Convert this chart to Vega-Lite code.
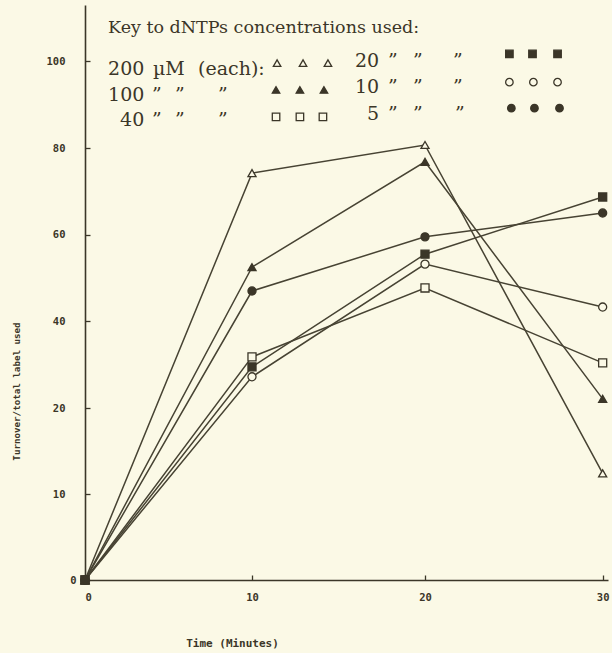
{
  "$schema": "https://vega.github.io/schema/vega-lite/v6.json",
  "width": 523,
  "height": 575,
  "autosize": {"type": "none"},
  "padding": {"left": 85, "top": 5, "right": 4, "bottom": 73},
  "background": "#fbf9e6",
  "config": {
    "view": {"stroke": null},
    "axis": {
      "grid": false,
      "domainColor": "#3b3628",
      "domainWidth": 1.6,
      "tickColor": "#3b3628",
      "tickWidth": 1.3,
      "tickSize": -5,
      "labelFont": "DejaVu Sans Mono",
      "labelFontWeight": "bold",
      "labelFontSize": 10.5,
      "labelColor": "#3b3628",
      "titleFont": "DejaVu Sans Mono",
      "titleFontWeight": "bold",
      "titleColor": "#3b3628"
    }
  },
  "datasets": {
    "obs": [
      {"conc": "200", "t": 0, "v": 0}, {"conc": "200", "t": 10, "v": 74.2}, {"conc": "200", "t": 20, "v": 80.7}, {"conc": "200", "t": 30, "v": 12.4},
      {"conc": "100", "t": 0, "v": 0}, {"conc": "100", "t": 10, "v": 52.5}, {"conc": "100", "t": 20, "v": 76.8}, {"conc": "100", "t": 30, "v": 22.1},
      {"conc": "40", "t": 0, "v": 0}, {"conc": "40", "t": 10, "v": 31.8}, {"conc": "40", "t": 20, "v": 47.7}, {"conc": "40", "t": 30, "v": 30.4},
      {"conc": "20", "t": 0, "v": 0}, {"conc": "20", "t": 10, "v": 29.5}, {"conc": "20", "t": 20, "v": 55.5}, {"conc": "20", "t": 30, "v": 68.7},
      {"conc": "10", "t": 0, "v": 0}, {"conc": "10", "t": 10, "v": 27.2}, {"conc": "10", "t": 20, "v": 53.2}, {"conc": "10", "t": 30, "v": 43.3},
      {"conc": "5", "t": 0, "v": 0}, {"conc": "5", "t": 10, "v": 47.0}, {"conc": "5", "t": 20, "v": 59.5}, {"conc": "5", "t": 30, "v": 65.0}
    ],
    "keytitle": [
      {"label": "Key to dNTPs concentrations used:", "t": 1.38, "v": 106.5}
    ],
    "keytext": [
      {"label": "200", "t": 1.38, "v": 96.85},
      {"label": "µM", "t": 4.07, "v": 96.85},
      {"label": "(each):", "t": 6.77, "v": 96.85},
      {"label": "100", "t": 1.38, "v": 90.85},
      {"label": "”", "t": 4.01, "v": 90.85},
      {"label": "”", "t": 5.39, "v": 90.85},
      {"label": "”", "t": 7.96, "v": 90.85},
      {"label": "40", "t": 2.10, "v": 85.08},
      {"label": "”", "t": 4.01, "v": 85.08},
      {"label": "”", "t": 5.39, "v": 85.08},
      {"label": "”", "t": 7.96, "v": 85.08},
      {"label": "20", "t": 15.95, "v": 98.7},
      {"label": "”", "t": 17.86, "v": 98.7},
      {"label": "”", "t": 19.31, "v": 98.7},
      {"label": "”", "t": 21.58, "v": 98.7},
      {"label": "10", "t": 15.95, "v": 92.7},
      {"label": "”", "t": 17.86, "v": 92.7},
      {"label": "”", "t": 19.31, "v": 92.7},
      {"label": "”", "t": 21.58, "v": 92.7},
      {"label": "5", "t": 16.65, "v": 86.47},
      {"label": "”", "t": 17.86, "v": 86.47},
      {"label": "”", "t": 19.31, "v": 86.47},
      {"label": "”", "t": 21.69, "v": 86.47}
    ],
    "keysym": [
      {"conc": "200", "t": 11.45, "v": 99.6}, {"conc": "200", "t": 12.95, "v": 99.6}, {"conc": "200", "t": 14.39, "v": 99.6},
      {"conc": "100", "t": 11.39, "v": 93.4}, {"conc": "100", "t": 12.77, "v": 93.4}, {"conc": "100", "t": 14.16, "v": 93.4},
      {"conc": "40", "t": 11.39, "v": 87.2}, {"conc": "40", "t": 12.77, "v": 87.2}, {"conc": "40", "t": 14.10, "v": 87.2},
      {"conc": "20", "t": 24.75, "v": 101.7}, {"conc": "20", "t": 26.05, "v": 101.7}, {"conc": "20", "t": 27.46, "v": 101.7},
      {"conc": "10", "t": 24.75, "v": 95.2}, {"conc": "10", "t": 26.1, "v": 95.2}, {"conc": "10", "t": 27.46, "v": 95.2},
      {"conc": "5", "t": 24.86, "v": 89.2}, {"conc": "5", "t": 26.16, "v": 89.2}, {"conc": "5", "t": 27.57, "v": 89.2}
    ]
  },
  "layer": [
    {
      "data": {"name": "obs"},
      "mark": {"type": "line", "color": "#474333", "strokeWidth": 1.5},
      "encoding": {
        "x": {
          "field": "t", "type": "quantitative",
          "scale": {"domain": [0, 10, 20, 30.3], "range": [0, 167, 340, 523], "nice": false, "zero": false},
          "axis": {"values": [0, 10, 20, 30], "title": "Time (Minutes)", "titleFontSize": 11, "titleX": 147, "titleY": 63, "titleBaseline": "middle", "labelPadding": 17}
        },
        "y": {
          "field": "v", "type": "quantitative",
          "scale": {"domain": [0, 20, 113], "range": [575, 403, 0], "nice": false, "zero": false},
          "axis": {
            "values": [0, 10, 20, 40, 60, 80, 100],
            "title": "Turnover/total label used",
            "titleFontSize": 9.2,
            "titleX": -69,
            "titleY": 386,
            "titleAlign": "center",
            "titleBaseline": "middle",
            "labelPadding": {"condition": {"test": "datum.value === 0", "value": 14}, "value": 25}
          }
        },
        "detail": {"field": "conc", "type": "nominal"}
      }
    },
    {
      "data": {"name": "obs"},
      "mark": {"type": "point", "filled": true, "stroke": "#3b3628", "strokeWidth": 1.3, "opacity": 1, "size": 65},
      "encoding": {
        "x": {"field": "t", "type": "quantitative"},
        "y": {"field": "v", "type": "quantitative"},
        "shape": {"field": "conc", "type": "nominal", "scale": {"domain": ["200", "100", "40", "20", "10", "5"], "range": ["triangle-up", "triangle-up", "square", "square", "circle", "circle"]}, "legend": null},
        "fill": {"field": "conc", "type": "nominal", "scale": {"domain": ["200", "100", "40", "20", "10", "5"], "range": ["#fbf9e6", "#3b3628", "#fbf9e6", "#3b3628", "#fbf9e6", "#3b3628"]}, "legend": null}
      }
    },
    {
      "data": {"name": "keysym"},
      "mark": {"type": "point", "filled": true, "stroke": "#3b3628", "strokeWidth": 1.3, "opacity": 1, "size": 56},
      "encoding": {
        "x": {"field": "t", "type": "quantitative"},
        "y": {"field": "v", "type": "quantitative"},
        "shape": {"field": "conc", "type": "nominal", "legend": null},
        "fill": {"field": "conc", "type": "nominal", "legend": null}
      }
    },
    {
      "data": {"name": "keytitle"},
      "mark": {"type": "text", "font": "DejaVu Serif", "fontSize": 17.5, "align": "left", "baseline": "alphabetic", "color": "#3b3628"},
      "encoding": {
        "x": {"field": "t", "type": "quantitative"},
        "y": {"field": "v", "type": "quantitative"},
        "text": {"field": "label"}
      }
    },
    {
      "data": {"name": "keytext"},
      "mark": {"type": "text", "font": "DejaVu Serif", "fontSize": 19, "align": "left", "baseline": "alphabetic", "color": "#3b3628"},
      "encoding": {
        "x": {"field": "t", "type": "quantitative"},
        "y": {"field": "v", "type": "quantitative"},
        "text": {"field": "label"}
      }
    }
  ]
}
